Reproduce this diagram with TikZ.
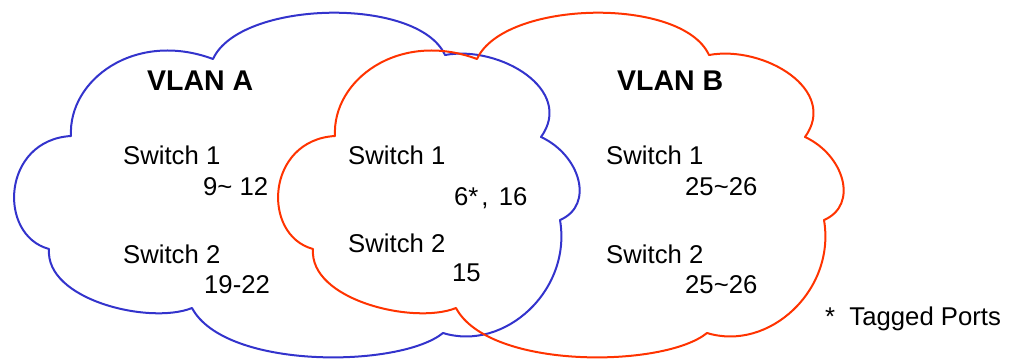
\documentclass[tikz,border=0pt]{standalone}
\usepackage{fontspec}
\setmainfont{Liberation Sans}
\definecolor{vlanblue}{RGB}{51,51,204}
\definecolor{vlanred}{RGB}{255,51,0}
\newcommand\vlancloud[2]{%
  \draw[cloudline,#1,shift={(#2,0)}]
    (71,136) .. controls (68,80) and (135,30) .. (213,59)
    .. controls (240,0) and (418,-4) .. (445,55)
    .. controls (500,45) and (575,90) .. (541,137)
    .. controls (580,155) and (595,205) .. (560,220)
    .. controls (572,290) and (505,352) .. (443,333)
    .. controls (400,368) and (225,370) .. (192,308)
    .. controls (150,325) and (45,300) .. (49,249)
    .. controls (-3,235) and (2,140) .. (71,136) -- cycle;}
\begin{document}
\begin{tikzpicture}[x=1pt,y=-1pt,line join=round,
  lbl/.style={anchor=base west,inner sep=0pt,font=\fontsize{25.7}{30}\selectfont},
  ttl/.style={anchor=base west,inner sep=0pt,font=\fontsize{28.5}{32}\selectfont\bfseries},
  cloudline/.style={line width=2pt}]
\useasboundingbox (0,0) rectangle (1021,362);
\vlancloud{vlanblue}{0}
\vlancloud{vlanred}{264}
% VLAN A
\node[ttl] (ta) at (147,90) {VLAN A};
\node[lbl] (a1) at (123,164) {Switch 1};
\node[lbl] (a1p) at (203,195) {9\textasciitilde\ 12};
\node[lbl] (a2) at (123,263) {Switch 2};
\node[lbl] (a2p) at (204,293) {19-22};
% shared
\node[lbl] (m1) at (348,164) {Switch 1};
\node[lbl] (m1p) at (454,205) {6*\kern3pt,\ \kern3pt16};
\node[lbl] (m2) at (348,252) {Switch 2};
\node[lbl] (m2p) at (452,281) {15};
% VLAN B
\node[ttl] (tb) at (617,90) {VLAN B};
\node[lbl] (b1) at (606,164) {Switch 1};
\node[lbl] (b1p) at (685,195) {25\textasciitilde 26};
\node[lbl] (b2) at (606,263) {Switch 2};
\node[lbl] (b2p) at (685,293) {25\textasciitilde 26};
\node[lbl] (note) at (825,325) {*\ \ Tagged Ports};
\end{tikzpicture}
\end{document}
